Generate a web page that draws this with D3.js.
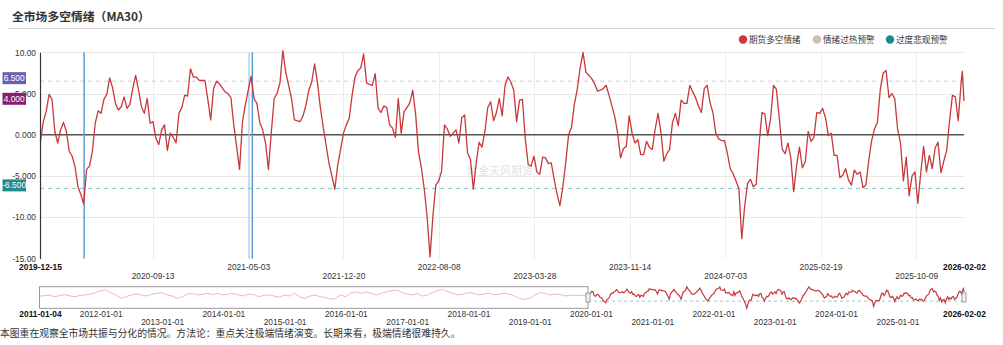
<!DOCTYPE html>
<html><head><meta charset="utf-8">
<script src="https://cdn.jsdelivr.net/npm/d3@7"></script>
<style>
body{margin:0;background:#fff;}
svg{display:block;font-family:"Liberation Sans",Arial,"Noto Sans CJK SC",sans-serif;}
</style></head><body>
<svg id="chart" width="1003" height="345"></svg>
<script>
// Weekly readings of the market-wide long/short sentiment (MA30)
const dates = [
"2019-12-16","2019-12-23","2019-12-30",
"2020-01-06","2020-01-13","2020-01-20","2020-01-27","2020-02-03","2020-02-10","2020-02-17","2020-02-24",
"2020-03-02","2020-03-09","2020-03-16","2020-03-23","2020-03-30","2020-04-06","2020-04-13","2020-04-20","2020-04-27",
"2020-05-04","2020-05-11","2020-05-18","2020-05-25","2020-06-01","2020-06-08","2020-06-15","2020-06-22","2020-06-29",
"2020-07-06","2020-07-13","2020-07-20","2020-07-27","2020-08-03","2020-08-10","2020-08-17","2020-08-24","2020-08-31",
"2020-09-07","2020-09-14","2020-09-21","2020-09-28","2020-10-05","2020-10-12","2020-10-19","2020-10-26",
"2020-11-02","2020-11-09","2020-11-16","2020-11-23","2020-11-30","2020-12-07","2020-12-14","2020-12-21","2020-12-28",
"2021-01-04","2021-01-11","2021-01-18","2021-01-25","2021-02-01","2021-02-08","2021-02-15","2021-02-22",
"2021-03-01","2021-03-08","2021-03-15","2021-03-22","2021-03-29","2021-04-05","2021-04-12","2021-04-19","2021-04-26",
"2021-05-03","2021-05-10","2021-05-17","2021-05-24","2021-05-31","2021-06-07","2021-06-14","2021-06-21","2021-06-28",
"2021-07-05","2021-07-12","2021-07-19","2021-07-26","2021-08-02","2021-08-09","2021-08-16","2021-08-23","2021-08-30",
"2021-09-06","2021-09-13","2021-09-20","2021-09-27","2021-10-04","2021-10-11","2021-10-18","2021-10-25",
"2021-11-01","2021-11-08","2021-11-15","2021-11-22","2021-11-29","2021-12-06","2021-12-13","2021-12-20","2021-12-27",
"2022-01-03","2022-01-10","2022-01-17","2022-01-24","2022-01-31","2022-02-07","2022-02-14","2022-02-21","2022-02-28",
"2022-03-07","2022-03-14","2022-03-21","2022-03-28","2022-04-04","2022-04-11","2022-04-18","2022-04-25",
"2022-05-02","2022-05-09","2022-05-16","2022-05-23","2022-05-30","2022-06-06","2022-06-13","2022-06-20","2022-06-27",
"2022-07-04","2022-07-11","2022-07-18","2022-07-25","2022-08-01","2022-08-08","2022-08-15","2022-08-22","2022-08-29",
"2022-09-05","2022-09-12","2022-09-19","2022-09-26","2022-10-03","2022-10-10","2022-10-17","2022-10-24","2022-10-31",
"2022-11-07","2022-11-14","2022-11-21","2022-11-28","2022-12-05","2022-12-12","2022-12-19","2022-12-26",
"2023-01-02","2023-01-09","2023-01-16","2023-01-23","2023-01-30","2023-02-06","2023-02-13","2023-02-20","2023-02-27",
"2023-03-06","2023-03-13","2023-03-20","2023-03-27","2023-04-03","2023-04-10","2023-04-17","2023-04-24",
"2023-05-01","2023-05-08","2023-05-15","2023-05-22","2023-05-29","2023-06-05","2023-06-12","2023-06-19","2023-06-26",
"2023-07-03","2023-07-10","2023-07-17","2023-07-24","2023-07-31","2023-08-07","2023-08-14","2023-08-21","2023-08-28",
"2023-09-04","2023-09-11","2023-09-18","2023-09-25","2023-10-02","2023-10-09","2023-10-16","2023-10-23","2023-10-30",
"2023-11-06","2023-11-13","2023-11-20","2023-11-27","2023-12-04","2023-12-11","2023-12-18","2023-12-25",
"2024-01-01","2024-01-08","2024-01-15","2024-01-22","2024-01-29","2024-02-05","2024-02-12","2024-02-19","2024-02-26",
"2024-03-04","2024-03-11","2024-03-18","2024-03-25","2024-04-01","2024-04-08","2024-04-15","2024-04-22","2024-04-29",
"2024-05-06","2024-05-13","2024-05-20","2024-05-27","2024-06-03","2024-06-10","2024-06-17","2024-06-24",
"2024-07-01","2024-07-08","2024-07-15","2024-07-22","2024-07-29","2024-08-05","2024-08-12","2024-08-19","2024-08-26",
"2024-09-02","2024-09-09","2024-09-16","2024-09-23","2024-09-30","2024-10-07","2024-10-14","2024-10-21","2024-10-28",
"2024-11-04","2024-11-11","2024-11-18","2024-11-25","2024-12-02","2024-12-09","2024-12-16","2024-12-23","2024-12-30",
"2025-01-06","2025-01-13","2025-01-20","2025-01-27","2025-02-03","2025-02-10","2025-02-17","2025-02-24",
"2025-03-03","2025-03-10","2025-03-17","2025-03-24","2025-03-31","2025-04-07","2025-04-14","2025-04-21","2025-04-28",
"2025-05-05","2025-05-12","2025-05-19","2025-05-26","2025-06-02","2025-06-09","2025-06-16","2025-06-23","2025-06-30",
"2025-07-07","2025-07-14","2025-07-21","2025-07-28","2025-08-04","2025-08-11","2025-08-18","2025-08-25",
"2025-09-01","2025-09-08","2025-09-15","2025-09-22","2025-09-29","2025-10-06","2025-10-13","2025-10-20","2025-10-27",
"2025-11-03","2025-11-10","2025-11-17","2025-11-24","2025-12-01","2025-12-08","2025-12-15","2025-12-22","2025-12-29",
"2026-01-05","2026-01-12","2026-01-19","2026-01-26","2026-01-29","2026-02-02"
];
const sentiment = [
-0.8,1.6,2.8,
4.9,4.3,0.4,-1.0, 0.6,1.5,0.4,-2.0, -2.6,-3.9,-6.3,-7.2,-8.4, -4.2,-3.8,-2.0,1.4,
2.9,2.6,4.3,4.9, 6.9,5.7,3.8,3.0,3.4, 4.6,3.2,3.7,5.6, 7.2,5.4,3.4,2.6,4.4,
1.4,1.6,-0.4,-1.2, 0.6,1.2,-1.9,0.2, -0.3,-1.0,2.6,3.3,4.8, 4.7,8.0,7.0,7.0,
6.6,6.6,6.6,4.3, 1.8,5.6,6.5,6.2, 5.7,5.2,5.0,4.5,1.2, -1.5,-4.2,1.6,3.6,
5.4,7.1,4.4,3.8,1.5, 0.6,-1.0,-4.2,0.3, 4.4,5.0,6.3,10.2, 7.6,6.0,4.4,1.8,1.7,
1.6,2.3,3.6,5.4, 6.4,8.6,6.3,3.3, 0.9,-1.3,-3.5,-5.0,-6.6, -3.7,-1.8,0.2,1.2,
2.0,4.8,7.0,7.8,8.1, 9.8,6.3,6.1,6.0, 7.4,3.2,2.7,3.5, 3.3,1.2,0.8,-0.3,
4.4,0.2,2.8,3.3,3.9, 5.4,2.5,-2.1,-4.0, -6.6,-10.0,-14.8,-9.8, -6.1,-5.6,-4.4,1.2,0.7,
-0.2,0.2,0.6,-1.0, 2.1,2.4,-2.2,-3.0,-6.6, -3.4,-0.9,-1.5,0.4, 3.3,4.0,1.7,2.7,
4.4,2.3,6.0,7.0,6.4, 5.4,1.6,4.2,4.3, -0.5,-3.6,-3.8,-2.6, -4.5,-4.8,-2.7,-2.8,
-3.5,-3.4,-5.4,-7.2,-8.6, -6.3,-3.4,0.0,0.9, 3.7,5.5,8.1,10.0,7.6, 7.2,6.8,6.2,5.3,
5.4,5.6,6.0,4.8, 3.5,2.2,0.2,-2.8,-1.7, -1.4,2.3,0.2,-1.0, -0.6,-2.4,-2.4,-0.8,
-1.5,-1.8,0.7,2.6,0.3, -3.2,-2.3,-1.8,1.5, 2.6,1.1,4.2,3.8, 3.8,6.0,5.2,4.5,3.5,
2.7,5.6,6.0,3.9, 2.7,0.2,-0.5,-0.7, -0.7,-2.2,-4.1,-4.7,-5.6, -6.5,-12.6,-8.7,-5.9,
-5.4,-6.3,-6.0,-1.2,2.7, 2.5,-0.1,2.0,6.0, 5.5,2.0,-1.7,-2.3, -1.0,-2.8,-6.9,-3.7,-1.5,
-4.0,-3.3,0.4,-0.8, -0.3,2.7,2.6,3.2, 2.1,-0.1,0.2,-2.5,-2.5, -5.2,-4.9,-4.1,-5.5,
-6.1,-4.3,-4.8,-4.5, -6.4,-6.1,-3.1,-0.7,0.7, 1.5,5.5,7.5,7.8, 4.5,5.0,4.4,0.7,
-1.0,-5.6,-2.7,-7.4,-5.0, -4.5,-8.3,-4.7,-1.4, -4.5,-2.5,-4.1,-1.6, -0.9,-4.6,-3.2,-1.9,1.7,
4.8,4.6,1.7,6.3,7.7,4.1
];

// Monthly history shown only in the navigator (2011 – 2019)
const historyMonths = [
"2011-01","2011-02","2011-03","2011-04","2011-05","2011-06","2011-07","2011-08","2011-09","2011-10","2011-11","2011-12",
"2012-01","2012-02","2012-03","2012-04","2012-05","2012-06","2012-07","2012-08","2012-09","2012-10","2012-11","2012-12",
"2013-01","2013-02","2013-03","2013-04","2013-05","2013-06","2013-07","2013-08","2013-09","2013-10","2013-11","2013-12",
"2014-01","2014-02","2014-03","2014-04","2014-05","2014-06","2014-07","2014-08","2014-09","2014-10","2014-11","2014-12",
"2015-01","2015-02","2015-03","2015-04","2015-05","2015-06","2015-07","2015-08","2015-09","2015-10","2015-11","2015-12",
"2016-01","2016-02","2016-03","2016-04","2016-05","2016-06","2016-07","2016-08","2016-09","2016-10","2016-11","2016-12",
"2017-01","2017-02","2017-03","2017-04","2017-05","2017-06","2017-07","2017-08","2017-09","2017-10","2017-11","2017-12",
"2018-01","2018-02","2018-03","2018-04","2018-05","2018-06","2018-07","2018-08","2018-09","2018-10","2018-11","2018-12",
"2019-01","2019-02","2019-03","2019-04","2019-05","2019-06","2019-07","2019-08","2019-09","2019-10","2019-11","2019-12"
];
const historyValues = [
-0.6,-0.2,0.6,-1.4,-0.2,1.0,-0.6,-1.4,0.2,0.6,1.7,3.3,
5.6,6.4,3.3,0.6,-3.3,-1.4,0.6,1.7,0.6,-0.6,1.7,2.5,
3.3,0.6,-0.6,-3.3,-1.4,1.7,2.5,0.6,1.7,2.5,1.0,2.5,
0.6,1.7,2.5,0.6,-0.6,1.7,1.0,-1.4,0.2,0.6,-0.6,-2.1,
0.6,-0.6,2.5,-1.4,-3.3,-0.6,0.6,-1.4,-2.1,-4.4,-3.3,0.6,
-1.4,3.3,4.0,2.5,4.4,2.5,0.6,2.5,4.4,5.6,6.4,3.3,
1.7,0.6,2.5,-0.6,0.6,3.3,5.6,7.1,4.4,2.5,0.6,1.7,
3.3,2.5,0.6,1.7,2.5,1.0,1.7,2.5,1.7,-0.6,-3.3,-4.4,
-3.3,0.6,3.3,2.5,0.6,1.7,1.0,-0.6,0.6,-0.2,0.6,-0.6
];

const rangeStart = "2019-12-15";
const rangeEnd = "2026-02-02";
const navStart = "2011-01-04";
const xTickDates = ["2020-09-13","2021-05-03","2021-12-20","2022-08-08","2023-03-28","2023-11-14","2024-07-03","2025-02-19","2025-10-09"];
const navTickDates = ["2012-01-01","2013-01-01","2014-01-01","2015-01-01","2016-01-01","2017-01-01","2018-01-01","2019-01-01","2020-01-01","2021-01-01","2022-01-01","2023-01-01","2024-01-01","2025-01-01"];
const yTickValues = [10, 5, 0, -5, -10, -15];
const yTickLabels = ["10.00", "5.000", "0.000", "-5.000", "-10.00", "-15.00"];
const levelValues = [6.5, 4.0, -6.5];
const levelLabels = ["6.500", "4.000", "-6.500"];
const eventDates = ["2020-03-31", "2021-05-13"];
const legendNames = ["期货多空情绪", "情绪过热预警", "过度悲观预警"];

const parseDay = d3.timeParse("%Y-%m-%d");
const parseMonth = d3.timeParse("%Y-%m");
const fmt = d3.timeFormat("%Y-%m-%d");

const svg = d3.select("#chart");
const cjk = '"Noto Sans CJK SC","Noto Sans",sans-serif';
const red = "#c9373a", beige = "#c9c0b3", teal = "#1c8a92";

// ---- header ----
svg.append("text").attr("x", 12).attr("y", 21)
  .attr("font-family", cjk).attr("font-weight", 700).attr("font-size", 11.8)
  .attr("fill", "#333").text("全市场多空情绪（MA30）");
svg.append("line").attr("x1", 8).attr("x2", 995).attr("y1", 28.5).attr("y2", 28.5)
  .attr("stroke", "#d4d4d4").attr("stroke-width", 1);

// ---- legend ----
const legendColors = [red, beige, teal];
const legendX = [743, 817, 890];
const lg = svg.append("g").attr("font-family", cjk).attr("font-size", 8.6).attr("fill", "#333");
legendNames.forEach((n, i) => {
  lg.append("circle").attr("cx", legendX[i]).attr("cy", 39.5).attr("r", 4.2).attr("fill", legendColors[i]);
  lg.append("text").attr("x", legendX[i] + 6).attr("y", 42.6).text(n);
});

// ---- main chart ----
const L = 40, R = 964, T = 52.3, B = 258.5;
const x = d3.scaleTime().domain([parseDay(rangeStart), parseDay(rangeEnd)]).range([L, R]);
const y = d3.scaleLinear().domain([-15, 10]).range([B, T]);
const series = dates.map((d, i) => ({ date: parseDay(d), value: sentiment[i] }));

const grid = svg.append("g");
grid.selectAll(".hg").data(yTickValues.filter(v => v !== 0 && v !== -15)).enter().append("line")
  .attr("x1", L).attr("x2", R).attr("y1", d => Math.round(y(d)) + 0.5).attr("y2", d => Math.round(y(d)) + 0.5)
  .attr("stroke", "#e8e8e8");
grid.selectAll(".vg").data(xTickDates).enter().append("line")
  .attr("x1", d => Math.round(x(parseDay(d))) + 0.5).attr("x2", d => Math.round(x(parseDay(d))) + 0.5)
  .attr("y1", T).attr("y2", B).attr("stroke", "#ececec");

// threshold dashed lines
svg.append("line").attr("x1", L).attr("x2", R).attr("y1", y(6.5)).attr("y2", y(6.5))
  .attr("stroke", "#d2ccc4").attr("stroke-dasharray", "4,4");
svg.append("line").attr("x1", L).attr("x2", R).attr("y1", y(-6.5)).attr("y2", y(-6.5))
  .attr("stroke", "#7fc6c2").attr("stroke-dasharray", "4,4");

// watermark
svg.append("text").attr("x", 500).attr("y", 175).attr("text-anchor", "middle")
  .attr("font-family", cjk).attr("font-size", 11).attr("fill", "#000").attr("opacity", 0.12)
  .text("紫金天风期货");

// zero line
svg.append("line").attr("x1", L).attr("x2", R).attr("y1", y(0)).attr("y2", y(0))
  .attr("stroke", "#555").attr("stroke-width", 1.5);

// event markers
svg.append("line").attr("x1", x(parseDay("2021-05-05"))).attr("x2", x(parseDay("2021-05-05")))
  .attr("y1", T).attr("y2", B).attr("stroke", "#a9cdeb").attr("stroke-width", 1.2);
svg.selectAll(".ev").data(eventDates).enter().append("line")
  .attr("x1", d => x(parseDay(d))).attr("x2", d => x(parseDay(d)))
  .attr("y1", T).attr("y2", B).attr("stroke", "#5b9bd5").attr("stroke-width", 1.5);

// sentiment line
const line = d3.line().x(d => x(d.date)).y(d => y(d.value));
svg.append("path").datum(series).attr("d", line)
  .attr("fill", "none").attr("stroke", red).attr("stroke-width", 1.3).attr("stroke-linejoin", "round");

// y axis
const yAxis = svg.append("g").attr("transform", `translate(${L},0)`)
  .call(d3.axisLeft(y).tickValues(yTickValues).tickSize(0).tickPadding(4)
    .tickFormat((d, i) => yTickLabels[i]));
yAxis.select(".domain").attr("stroke", "#333").attr("stroke-width", 1.2);
yAxis.selectAll("text").attr("font-size", 8.4).attr("fill", "#333").attr("font-family", '"Liberation Sans",Arial,sans-serif');

// level badges on the y axis
const badgeColors = ["#6b60ad", "#8a1f6e", "#1f8b8f"];
levelValues.forEach((v, i) => {
  const cy = y(v) - 3;
  svg.append("rect").attr("x", 2.5).attr("y", cy - 6).attr("width", 23.5).attr("height", 12)
    .attr("fill", badgeColors[i]);
  svg.append("text").attr("x", 14.2).attr("y", cy + 3).attr("text-anchor", "middle")
    .attr("font-size", 8.4).attr("fill", "#fff").text(levelLabels[i]);
});

// x axis with staggered labels
const allTicks = [rangeStart, ...xTickDates, rangeEnd].map(parseDay);
const xAxis = svg.append("g").attr("transform", `translate(0,${B})`)
  .call(d3.axisBottom(x).tickValues(allTicks).tickSize(0).tickFormat(fmt));
xAxis.select(".domain").remove();
xAxis.selectAll("text")
  .attr("font-size", 8.4).attr("fill", "#333").attr("dy", 0)
  .attr("y", (d, i) => (i === 0 || i === allTicks.length - 1 || i % 2 === 0) ? 11.6 : 20.2)
  .attr("font-weight", (d, i) => (i === 0 || i === allTicks.length - 1) ? 700 : 400)
  .attr("fill", (d, i) => (i === 0 || i === allTicks.length - 1) ? "#111" : "#333");

// ---- navigator ----
const nT = 286.7, nB = 308.3;
const nx = d3.scaleTime().domain([parseDay(navStart), parseDay(rangeEnd)]).range([L, R]);
const history = historyMonths.map((m, i) => ({ date: i === 0 ? parseDay(navStart) : parseMonth(m), value: historyValues[i] }));
const navAll = history.concat(series);
const ny = d3.scaleLinear().domain(d3.extent(navAll, d => d.value)).range([nB, nT]);
const nline = d3.line().x(d => nx(d.date)).y(d => ny(d.value));

const selX = nx(parseDay(rangeStart));
svg.append("line").attr("x1", selX).attr("x2", R).attr("y1", ny(-6.5)).attr("y2", ny(-6.5))
  .attr("stroke", "#8fd0cc").attr("stroke-dasharray", "3,3");
svg.append("path").datum(history.concat([series[0]])).attr("d", nline)
  .attr("fill", "none").attr("stroke", "#efb6bd").attr("stroke-width", 1);
svg.append("path").datum(series).attr("d", nline)
  .attr("fill", "none").attr("stroke", red).attr("stroke-width", 1.2);
svg.append("rect").attr("x", L - 0.5).attr("y", nT).attr("width", selX - L + 0.5).attr("height", nB - nT)
  .attr("fill", "none").attr("stroke", "#999").attr("stroke-width", 1);
[selX, R].forEach(hx => {
  svg.append("rect").attr("x", hx - 2).attr("y", 293).attr("width", 4).attr("height", 9)
    .attr("fill", "#f2f2f2").attr("stroke", "#999").attr("stroke-width", 1);
});

const navTicks = [navStart, ...navTickDates, rangeEnd].map(parseDay);
const nAxis = svg.append("g").attr("transform", `translate(0,${nB})`)
  .call(d3.axisBottom(nx).tickValues(navTicks).tickSize(0).tickFormat(fmt));
nAxis.select(".domain").remove();
nAxis.selectAll("text")
  .attr("font-size", 8.4).attr("dy", 0)
  .attr("y", (d, i) => (i === 0 || i === navTicks.length - 1 || i % 2 === 1) ? 8.6 : 16.8)
  .attr("font-weight", (d, i) => (i === 0 || i === navTicks.length - 1) ? 700 : 400)
  .attr("fill", (d, i) => (i === 0 || i === navTicks.length - 1) ? "#111" : "#333");

// ---- footnote ----
svg.append("text").attr("x", 0).attr("y", 337).attr("font-family", cjk).attr("font-size", 9.8)
  .attr("fill", "#333")
  .text("本图重在观察全市场共振与分化的情况。方法论：重点关注极端情绪演变。长期来看，极端情绪很难持久。");
</script>
</body></html>
